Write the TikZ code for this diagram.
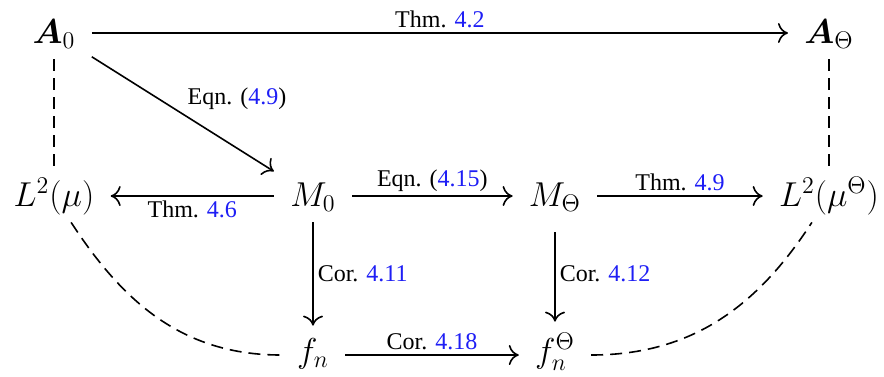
\documentclass[tikz,border=0pt]{standalone}
\usepackage{amsmath,amssymb}
\usepackage{fontspec}
\setmainfont{Liberation Serif}
\usetikzlibrary{arrows.meta}
\definecolor{refblue}{RGB}{30,30,245}
\newcommand{\rf}[1]{\textcolor{refblue}{#1}}
\begin{document}
\begin{tikzpicture}[x=0.5pt,y=-0.5pt,
  obj/.style={font=\LARGE, text height=14pt, text depth=4pt, inner xsep=8pt, inner ysep=4pt, anchor=base},
  objlow/.style={obj, text depth=7pt},
  lbl/.style={font=\large, inner sep=2pt},
  arr/.style={line width=0.8pt, -{Computer Modern Rightarrow[length=5pt,width=10pt]}},
  dsh/.style={line width=0.8pt, dash pattern=on 6pt off 3.5pt}]
\useasboundingbox (0,0) rectangle (884,376);
\node[obj] (A0) at (54,43) {$\boldsymbol{A}_0$};
\node[obj] (AT) at (829,43) {$\boldsymbol{A}_\Theta$};
\node[obj] (L2mu) at (54,206) {$L^2(\mu)$};
\node[obj] (M0) at (313,206) {$M_0$};
\node[obj] (MT) at (555,206) {$M_\Theta$};
\node[obj] (L2muT) at (829,206) {$L^2(\mu^\Theta)$};
\node[objlow] (fn) at (313,362) {$f_n$};
\node[objlow] (fnT) at (555,362) {$f_n^\Theta$};
\draw[arr] (A0) -- node[lbl, above]{Thm. \rf{4.2}} (AT);
\draw[arr] (A0) -- node[lbl, above right]{Eqn. (\rf{4.9})} (M0);
\draw[arr] (M0) -- node[lbl, below]{Thm. \rf{4.6}} (L2mu);
\draw[arr] (M0) -- node[lbl, above]{Eqn. (\rf{4.15})} (MT);
\draw[arr] (MT) -- node[lbl, above]{Thm. \rf{4.9}} (L2muT);
\draw[arr] (M0) -- node[lbl, right]{Cor. \rf{4.11}} (fn);
\draw[arr, shorten <=5pt, shorten >=2pt] (MT) -- node[lbl, right]{Cor. \rf{4.12}} (fnT);
\draw[arr] (fn) -- node[lbl, above]{Cor. \rf{4.18}} (fnT);
\draw[dsh] (A0) -- (L2mu);
\draw[dsh] (AT) -- (L2muT);
\draw[dsh] (L2mu) to[out=-57, in=180] (fn);
\draw[dsh] (fnT) to[out=0, in=-123] (L2muT);
\end{tikzpicture}
\end{document}
